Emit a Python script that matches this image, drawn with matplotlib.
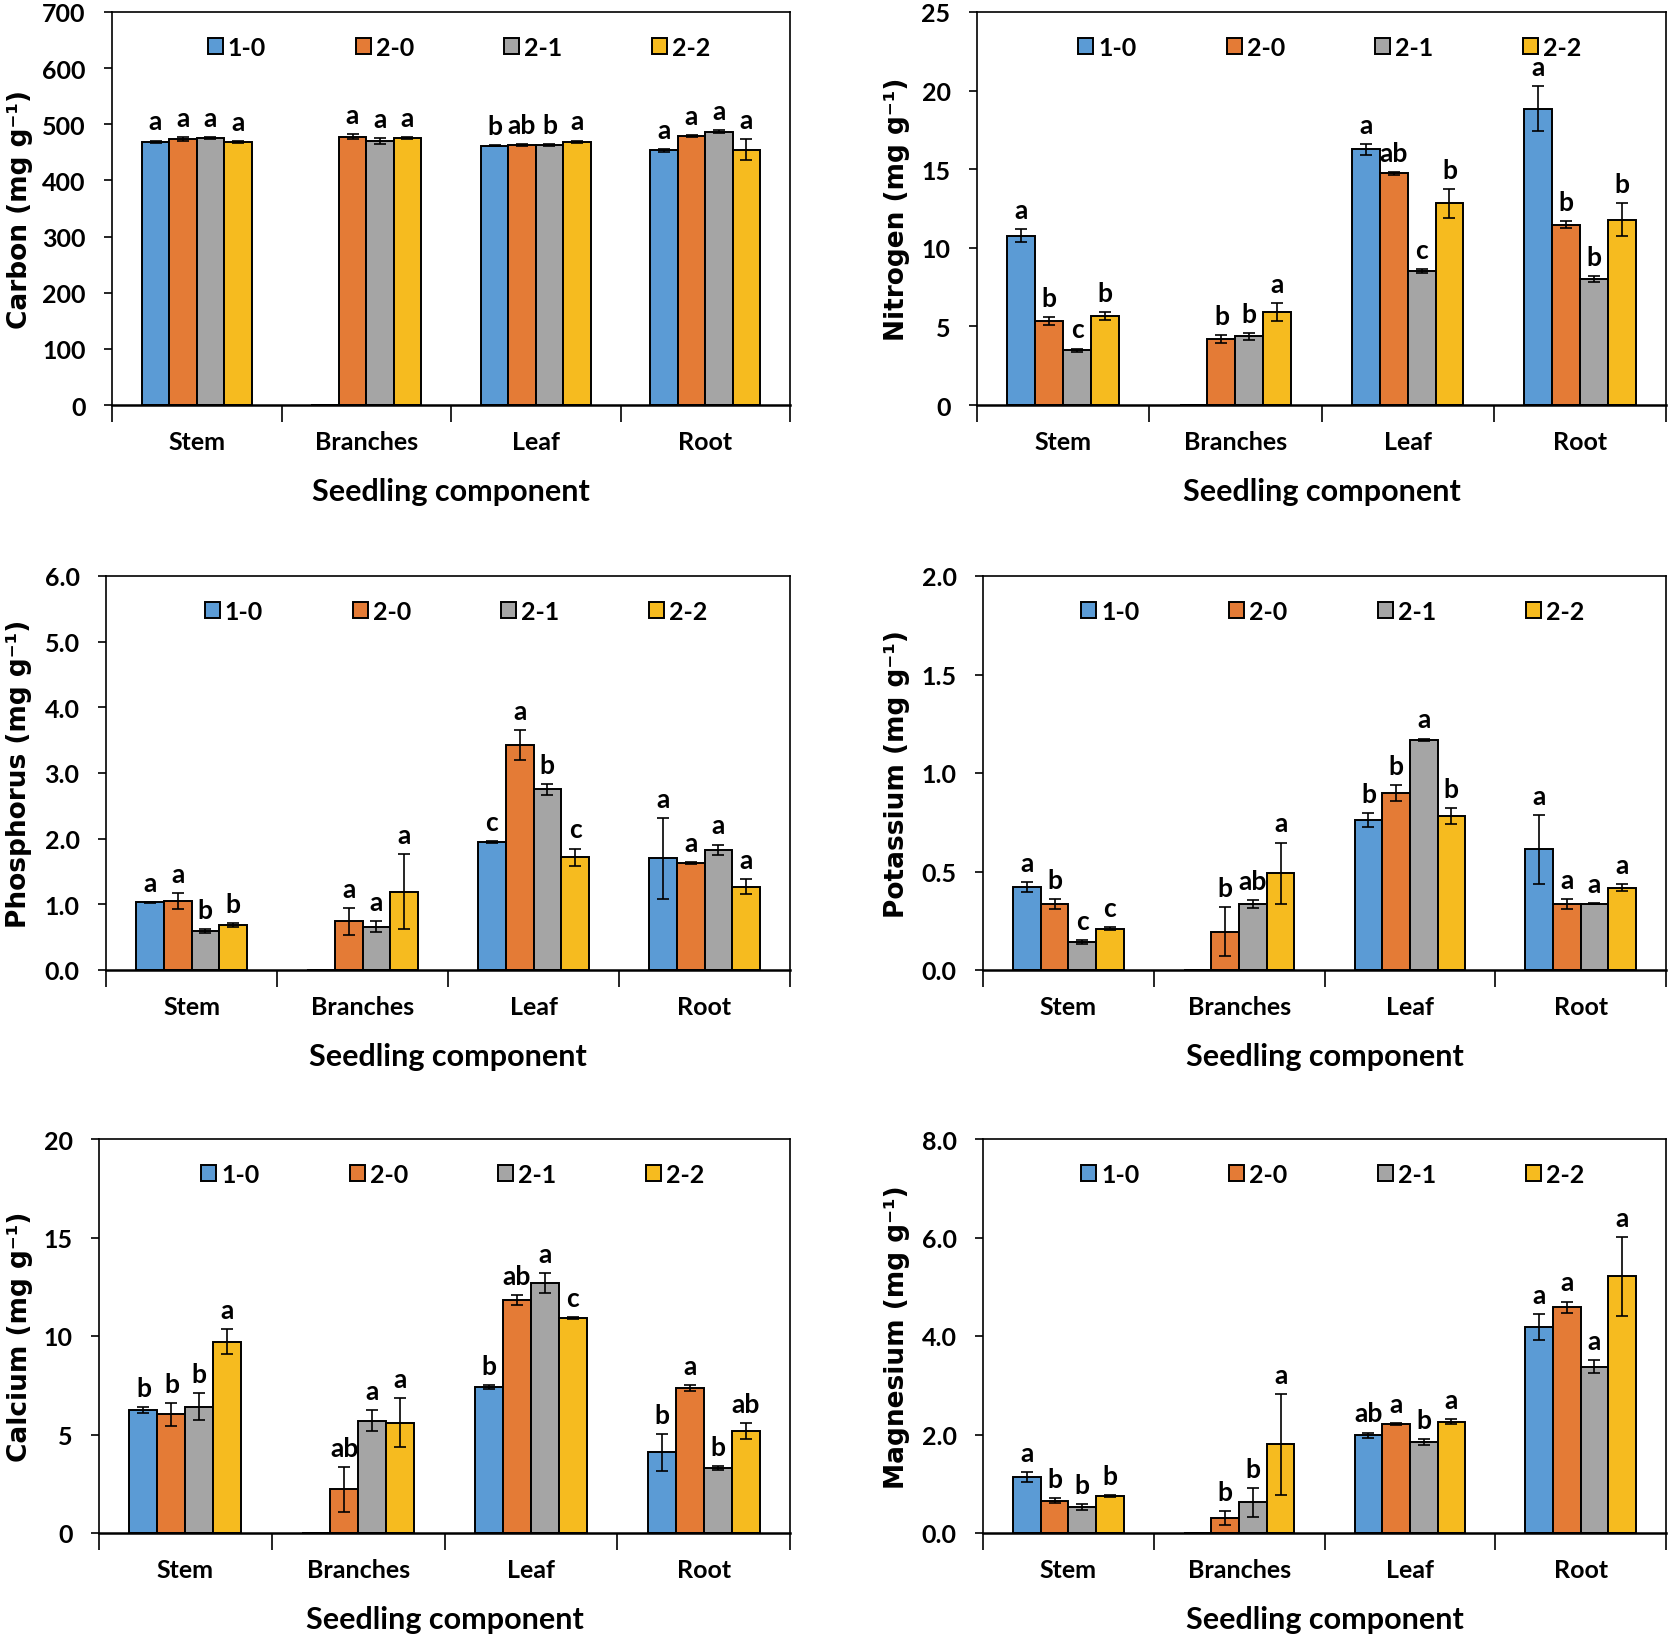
import matplotlib
matplotlib.use('Agg')
import matplotlib.pyplot as plt
import numpy as np

categories = ['Stem', 'Branches', 'Leaf', 'Root']
series = ['1-0', '2-0', '2-1', '2-2']
colors = ['#5B9BD5', '#E47B36', '#A5A5A5', '#F6BB1F']

# rows = series (1-0, 2-0, 2-1, 2-2), columns = categories
carbon_mean = [[469, 0, 462, 453.5], [474, 478, 463, 479.5], [475, 470, 463, 487], [469, 476, 469, 455]]
carbon_err = [[2, 0, 1.5, 2], [3, 4, 1, 2], [2, 6, 1.5, 2], [1.5, 2, 2, 18]]
carbon_let = [['a', '', 'b', 'a'], ['a', 'a', 'ab', 'a'], ['a', 'a', 'b', 'a'], ['a', 'a', 'a', 'a']]

nitrogen_mean = [[10.77, 0, 16.26, 18.85], [5.33, 4.19, 14.74, 11.48], [3.49, 4.36, 8.52, 8.02], [5.65, 5.9, 12.82, 11.78]]
nitrogen_err = [[0.4, 0, 0.34, 1.42], [0.27, 0.27, 0.08, 0.2], [0.1, 0.2, 0.15, 0.2], [0.25, 0.58, 0.9, 1.04]]
nitrogen_let = [['a', '', 'a', 'a'], ['b', 'b', 'ab', 'b'], ['c', 'b', 'c', 'b'], ['b', 'a', 'b', 'b']]

phosphorus_mean = [[1.03, 0, 1.95, 1.70], [1.05, 0.74, 3.43, 1.63], [0.60, 0.66, 2.75, 1.83], [0.68, 1.19, 1.72, 1.27]]
phosphorus_err = [[0.01, 0, 0.02, 0.62], [0.12, 0.2, 0.23, 0.02], [0.03, 0.08, 0.08, 0.08], [0.03, 0.57, 0.13, 0.11]]
phosphorus_let = [['a', '', 'c', 'a'], ['a', 'a', 'a', 'a'], ['b', 'a', 'b', 'a'], ['b', 'a', 'c', 'a']]

potassium_mean = [[0.42, 0, 0.76, 0.613], [0.333, 0.195, 0.898, 0.333], [0.142, 0.333, 1.169, 0.337], [0.21, 0.49, 0.783, 0.418]]
potassium_err = [[0.025, 0, 0.035, 0.175], [0.025, 0.123, 0.04, 0.025], [0.012, 0.02, 0.006, 0.004], [0.006, 0.157, 0.04, 0.018]]
potassium_let = [['a', '', 'b', 'a'], ['b', 'b', 'b', 'a'], ['c', 'ab', 'a', 'a'], ['c', 'a', 'b', 'a']]

calcium_mean = [[6.24, 0, 7.42, 4.09], [6.02, 2.21, 11.83, 7.35], [6.41, 5.71, 12.68, 3.30], [9.72, 5.6, 10.89, 5.16]]
calcium_err = [[0.17, 0, 0.1, 0.94], [0.57, 1.12, 0.27, 0.15], [0.68, 0.55, 0.51, 0.12], [0.62, 1.24, 0.05, 0.4]]
calcium_let = [['b', '', 'b', 'b'], ['b', 'ab', 'ab', 'a'], ['b', 'a', 'a', 'b'], ['a', 'a', 'c', 'ab']]

magnesium_mean = [[1.136, 0, 1.98, 4.18], [0.656, 0.30, 2.22, 4.58], [0.534, 0.62, 1.84, 3.38], [0.757, 1.80, 2.26, 5.21]]
magnesium_err = [[0.1, 0, 0.06, 0.26], [0.05, 0.14, 0.02, 0.12], [0.06, 0.3, 0.06, 0.14], [0.02, 1.02, 0.05, 0.8]]
magnesium_let = [['a', '', 'ab', 'a'], ['b', 'b', 'a', 'a'], ['b', 'b', 'b', 'a'], ['b', 'a', 'a', 'a']]

panels = [
    ('Carbon (mg g⁻¹)', carbon_mean, carbon_err, carbon_let, 700, 100, '%d'),
    ('Nitrogen (mg g⁻¹)', nitrogen_mean, nitrogen_err, nitrogen_let, 25, 5, '%d'),
    ('Phosphorus (mg g⁻¹)', phosphorus_mean, phosphorus_err, phosphorus_let, 6, 1, '%.1f'),
    ('Potassium (mg g⁻¹)', potassium_mean, potassium_err, potassium_let, 2, 0.5, '%.1f'),
    ('Calcium (mg g⁻¹)', calcium_mean, calcium_err, calcium_let, 20, 5, '%d'),
    ('Magnesium (mg g⁻¹)', magnesium_mean, magnesium_err, magnesium_let, 8, 2, '%.1f'),
]

# axes rectangles in figure pixels: left, right, top, bottom
W, H = 1671, 1640
boxes = [(112, 790, 13, 406), (977, 1666, 13, 406),
         (106, 790, 577, 971), (983, 1666, 577, 971),
         (99, 790, 1140, 1534), (983, 1666, 1140, 1534)]
ylab_x = [20, 897, 19, 897, 20, 897]

plt.rcParams['font.family'] = 'Lato'
plt.rcParams['font.weight'] = 'bold'

fig = plt.figure(figsize=(W / 100, H / 100), dpi=100)

x = np.arange(len(categories))
w = 0.162

for (ylabel, mean, err, lets, ymax, step, fmt), (l, r, t, b), yx in zip(panels, boxes, ylab_x):
    ax = fig.add_axes([l / W, 1 - b / H, (r - l) / W, (b - t) / H])
    for i, s in enumerate(series):
        xs = x + (i - 1.5) * w
        ax.bar(xs, mean[i], w, color=colors[i], edgecolor='black', linewidth=1.4, label=s, zorder=2)
        ax.errorbar(xs, mean[i], yerr=err[i], fmt='none', ecolor='black',
                    elinewidth=1.2, capsize=4, capthick=1.2, zorder=3)
        for xi, m, e, lt in zip(xs, mean[i], err[i], lets[i]):
            if lt:
                ax.annotate(lt, (xi, m + e), xytext=(0, 8), textcoords='offset points',
                            ha='center', va='baseline', fontsize=19, fontweight='bold')

    ax.set_xlim(-0.5, 3.5)
    ax.set_ylim(0, ymax)
    ax.set_yticks(np.arange(0, ymax + step / 2, step))
    ax.yaxis.set_major_formatter(matplotlib.ticker.FormatStrFormatter(fmt))
    ax.set_xticks(np.arange(-0.5, 4, 1))
    ax.set_xticklabels([])
    ax.set_xticks(x, minor=True)
    ax.set_xticklabels(categories, minor=True)
    ax.tick_params(axis='x', which='major', length=12, width=1.2, direction='out')
    ax.tick_params(axis='x', which='minor', length=0, pad=18, labelsize=18)
    ax.tick_params(axis='y', length=6, width=1.2, direction='out', pad=13, labelsize=18)
    for sp in ax.spines.values():
        sp.set_linewidth(1.2)
    ax.spines['bottom'].set_linewidth(1.8)

    ax.set_xlabel('Seedling component', fontsize=22, fontweight='bold', labelpad=17)
    ax.set_ylabel(ylabel, fontsize=19, fontweight='bold', family='DejaVu Sans', va='center')
    ax.yaxis.set_label_coords((yx - l) / (r - l), 0.5)

    ax.legend(loc='center', bbox_to_anchor=(0.512, 0.91), ncol=4, frameon=False,
              handlelength=0.6, handleheight=0.6, handletextpad=0.2, columnspacing=3.6,
              prop={'size': 18, 'weight': 'bold'})

fig.savefig('out.png', dpi=100)
